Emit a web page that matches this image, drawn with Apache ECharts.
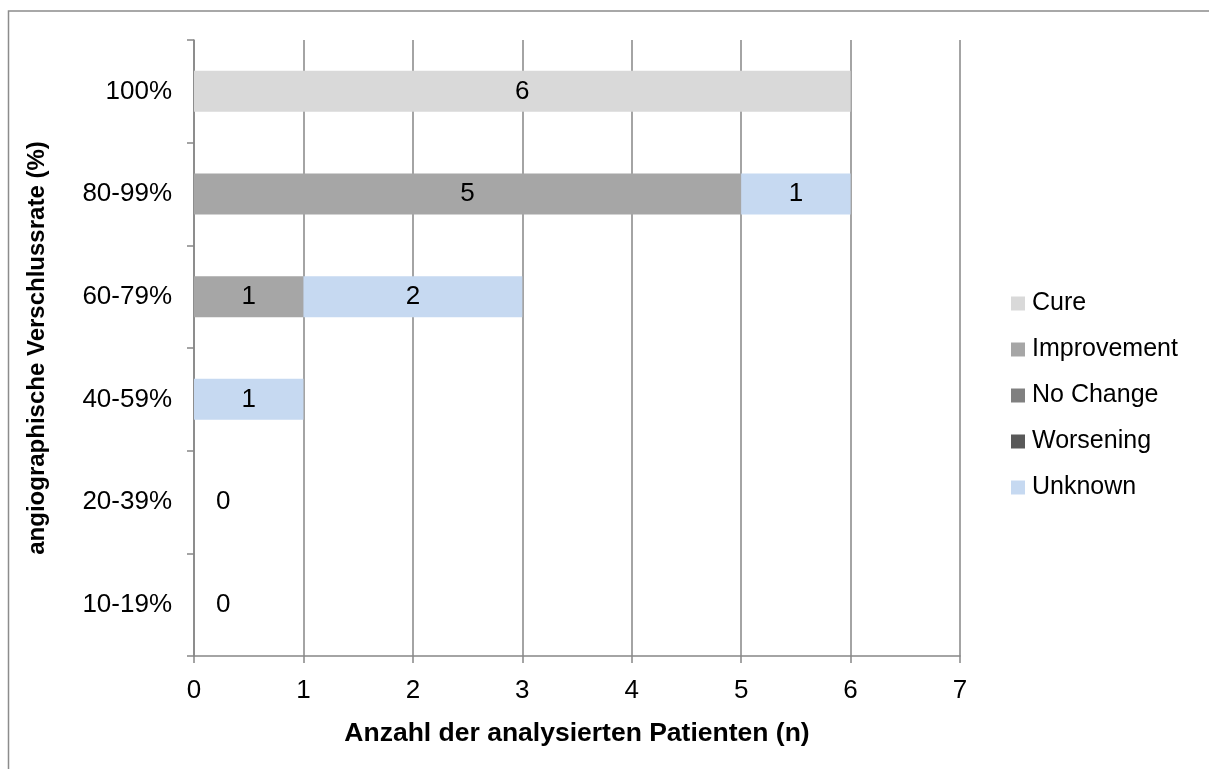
<!DOCTYPE html>
<html>
<head>
<meta charset="utf-8">
<script src="https://cdn.jsdelivr.net/npm/echarts@6/dist/echarts.min.js"></script>
<style>
  html, body { margin: 0; padding: 0; background: #fff; }
  #chart { width: 1209px; height: 769px; }
</style>
</head>
<body>
<div id="chart"></div>
<script>
// Occlusion rate classes, bottom to top
const categories = ['10-19%', '20-39%', '40-59%', '60-79%', '80-99%', '100%'];
const seriesNames = ['Cure', 'Improvement', 'No Change', 'Worsening', 'Unknown'];
const cure        = [0, 0, 0, 0, 0, 6];
const improvement = [0, 0, 0, 1, 5, 0];
const noChange    = [0, 0, 0, 0, 0, 0];
const worsening   = [0, 0, 0, 0, 0, 0];
const unknown     = [0, 0, 1, 2, 1, 0];
const colors = ['#d9d9d9', '#a6a6a6', '#808080', '#595959', '#c6d9f1'];
const xTicks = [0, 1, 2, 3, 4, 5, 6, 7];

const allValues = [cure, improvement, noChange, worsening, unknown];
const totals = categories.map((_, i) => allValues.reduce((s, arr) => s + arr[i], 0));

const FONT = 'Liberation Sans, Arial, sans-serif';
const GRAY = '#868686';

function buildData(values, isFirst) {
  return values.map((v, i) => {
    if (isFirst && totals[i] === 0) {
      // empty rows still get a "0" label beside the axis
      return { value: v, label: { show: true, position: 'right', distance: 22, formatter: '0' } };
    }
    return v;
  });
}

const series = allValues.map((vals, k) => ({
  name: seriesNames[k],
  type: 'bar',
  stack: 'total',
  barWidth: 41,
  itemStyle: { color: colors[k] },
  label: {
    show: true,
    position: 'inside',
    color: '#000',
    fontFamily: FONT,
    fontSize: 26,
    formatter: p => (p.value > 0 ? String(p.value) : '')
  },
  data: buildData(vals, k === 0)
}));

const chart = echarts.init(document.getElementById('chart'), null, { renderer: 'canvas' });
chart.setOption({
  animation: false,
  backgroundColor: '#fff',
  textStyle: { fontFamily: FONT },
  graphic: [{
    type: 'rect',
    shape: { x: 8.5, y: 11, width: 1300, height: 900 },
    style: { fill: 'none', stroke: '#8c8c8c', lineWidth: 1.5 },
    silent: true
  }],
  grid: { left: 194, right: 249, top: 40, bottom: 113 },
  legend: {
    orient: 'vertical',
    left: 1006,
    top: 286,
    itemWidth: 14,
    itemHeight: 14,
    itemGap: 21,
    icon: 'rect',
    textStyle: { fontFamily: FONT, fontSize: 25, color: '#000', padding: [0, 0, 0, 2] },
    data: seriesNames
  },
  xAxis: {
    type: 'value',
    min: 0,
    max: 7,
    interval: 1,
    name: 'Anzahl der analysierten Patienten (n)',
    nameLocation: 'middle',
    nameGap: 64,
    nameTextStyle: { fontFamily: FONT, fontSize: 26.5, fontWeight: 'bold', color: '#000' },
    axisLine: { show: true, lineStyle: { color: GRAY, width: 1.5 } },
    axisTick: { show: true, length: 7, lineStyle: { color: GRAY, width: 1.5 } },
    axisLabel: {
      margin: 22, fontSize: 26, color: '#000', fontFamily: FONT,
      formatter: v => (xTicks.includes(v) ? String(v) : '')
    },
    splitLine: { show: true, lineStyle: { color: GRAY, width: 1.5 } }
  },
  yAxis: {
    type: 'category',
    data: categories,
    name: 'angiographische Verschlussrate (%)',
    nameLocation: 'middle',
    nameGap: 145,
    nameTextStyle: { fontFamily: FONT, fontSize: 24, fontWeight: 'bold', color: '#000' },
    axisLine: { show: true, lineStyle: { color: GRAY, width: 1.5 } },
    axisTick: { show: true, length: 7, alignWithLabel: false, lineStyle: { color: GRAY, width: 1.5 } },
    axisLabel: { margin: 22, fontSize: 26, color: '#000', fontFamily: FONT },
    splitLine: { show: false }
  },
  series: series
});
</script>
</body>
</html>
